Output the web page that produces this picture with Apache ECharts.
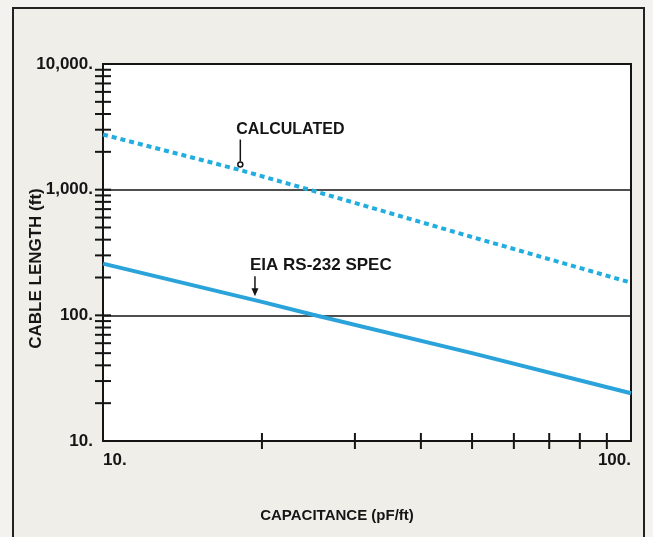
<html lang="en">
<head>
<meta charset="utf-8">
<title>Cable length vs capacitance</title>
<script src="https://cdn.jsdelivr.net/npm/echarts@6/dist/echarts.min.js"></script>
<style>
  body { margin: 0; background: #f3f2ee; }
  #main { width: 653px; height: 537px; }
</style>
</head>
<body>
<div id="main"></div>
<script>
  // values (pF/ft -> ft)
  var calcCap = [10, 18, 25, 50, 100];
  var calcLen = [2750, 1450, 980, 420, 182];
  var eiaCap = [10, 20, 25, 50, 100];
  var eiaLen = [258, 128, 101, 50, 24];

  // tick marks that cross the axes
  var xTicks = [20, 30, 40, 50, 60, 70, 80, 90];
  var yTicks = [20, 30, 40, 50, 60, 70, 80, 90, 100,
    200, 300, 400, 500, 600, 700, 800, 900, 1000,
    2000, 3000, 4000, 5000, 6000, 7000, 8000, 9000];

  var yLabels = { 10: '10.', 100: '100.', 1000: '1,000.', 10000: '10,000.' };

  var font = 'Liberation Sans, Arial, sans-serif';
  var ink = '#151515';

  function pairs(xs, ys) {
    return xs.map(function (x, i) { return [x, ys[i]]; });
  }

  function tickItem(horizontal) {
    return function (params, api) {
      var p = api.coord([api.value(0), api.value(1)]);
      var h = 8;
      var shape = horizontal
        ? { x1: p[0] - h, y1: p[1], x2: p[0] + h, y2: p[1] }
        : { x1: p[0], y1: p[1] - h, x2: p[0], y2: p[1] + h };
      return { type: 'line', shape: shape, style: { stroke: ink, lineWidth: 2 } };
    };
  }

  var myChart = echarts.init(document.getElementById('main'));
  myChart.setOption({
    animation: false,
    backgroundColor: '#f3f2ee',
    textStyle: { fontFamily: font },
    grid: {
      left: 103, right: 22, top: 64, bottom: 96,
      show: true, backgroundColor: '#ffffff',
      borderColor: ink, borderWidth: 2
    },
    xAxis: {
      type: 'log', logBase: 10, min: 10, max: 100,
      name: 'CAPACITANCE (pF/ft)', nameLocation: 'middle', nameGap: 67,
      nameMoveOverlap: false,
      nameTextStyle: { fontSize: 15, fontWeight: 'bold', color: ink, padding: [0, 60, 0, 0] },
      axisLine: { show: false },
      axisTick: { show: false },
      splitLine: { show: false },
      axisLabel: {
        margin: 11, fontSize: 17, fontWeight: 'bold', color: ink,
        alignMinLabel: 'left', alignMaxLabel: 'right',
        formatter: function (v) { return v + '.'; }
      }
    },
    yAxis: {
      type: 'log', logBase: 10, min: 10, max: 10000,
      name: 'CABLE LENGTH (ft)', nameLocation: 'middle', nameGap: 58, nameRotate: 90,
      nameMoveOverlap: false,
      nameTextStyle: { fontSize: 17, fontWeight: 'bold', color: ink, padding: [0, 32, 0, 0] },
      axisLine: { show: true, lineStyle: { color: ink, width: 2 } },
      axisTick: { show: false },
      splitLine: { show: true, lineStyle: { color: ink, width: 1.5 } },
      axisLabel: {
        margin: 10, fontSize: 17, fontWeight: 'bold', color: ink,
        formatter: function (v) { return yLabels[Math.round(v)] || ''; }
      }
    },
    series: [
      {
        name: 'CALCULATED', type: 'line', data: pairs(calcCap, calcLen),
        showSymbol: false, symbol: 'none', z: 3,
        lineStyle: { color: '#22ade0', width: 4, type: [5, 4], cap: 'butt' }
      },
      {
        name: 'EIA RS-232 SPEC', type: 'line', data: pairs(eiaCap, eiaLen),
        showSymbol: false, symbol: 'none', z: 3,
        lineStyle: { color: '#2aa3da', width: 4 }
      },
      {
        type: 'custom', renderItem: tickItem(true), z: 4, silent: true,
        data: yTicks.map(function (v) { return [10, v]; })
      },
      {
        type: 'custom', renderItem: tickItem(false), z: 4, silent: true,
        data: xTicks.map(function (v) { return [v, 10]; })
      }
    ]
  });

  // annotations: arrows pointing at the curves, placed from data coordinates
  var calcTip = myChart.convertToPixel({ gridIndex: 0 }, [18.2, 1500]);
  var eiaTip = myChart.convertToPixel({ gridIndex: 0 }, [19.4, 142]);

  myChart.setOption({
    graphic: [
      {
        type: 'rect', z: -10, silent: true,
        shape: { x: 13, y: 8, width: 631, height: 545 },
        style: { fill: '#efeee9', stroke: '#222', lineWidth: 2 }
      },
      {
        type: 'text', z: 10, x: calcTip[0] - 4, y: calcTip[1] - 46,
        style: { text: 'CALCULATED', font: 'bold 16px ' + font, fill: ink }
      },
      {
        type: 'line', z: 10,
        shape: { x1: calcTip[0], y1: calcTip[1] - 28, x2: calcTip[0], y2: calcTip[1] - 6 },
        style: { stroke: ink, lineWidth: 1.5 }
      },
      {
        type: 'circle', z: 10,
        shape: { cx: calcTip[0], cy: calcTip[1] - 3, r: 2.5 },
        style: { fill: '#fff', stroke: ink, lineWidth: 1.5 }
      },
      {
        type: 'text', z: 10, x: eiaTip[0] - 5, y: eiaTip[1] - 39,
        style: { text: 'EIA RS-232 SPEC', font: 'bold 17px ' + font, fill: ink }
      },
      {
        type: 'line', z: 10,
        shape: { x1: eiaTip[0], y1: eiaTip[1] - 20, x2: eiaTip[0], y2: eiaTip[1] - 6 },
        style: { stroke: ink, lineWidth: 1.5 }
      },
      {
        type: 'polygon', z: 10,
        shape: { points: [[eiaTip[0] - 3.5, eiaTip[1] - 8], [eiaTip[0] + 3.5, eiaTip[1] - 8], [eiaTip[0], eiaTip[1]]] },
        style: { fill: ink }
      }
    ]
  });
</script>
</body>
</html>
